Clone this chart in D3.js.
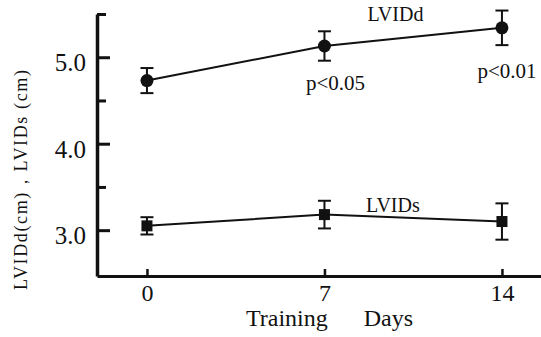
<!DOCTYPE html>
<html>
<head>
<meta charset="utf-8">
<script src="https://cdn.jsdelivr.net/npm/d3@7"></script>
<style>
  body { margin: 0; background: #fff; }
  svg { display: block; }
  svg text { font-family: "Liberation Serif", "DejaVu Serif", serif !important; fill: #111; }
</style>
</head>
<body>
<div id="chart"></div>
<script>
// values
const days = [0, 7, 14];
const lvidd = [4.73, 5.13, 5.34];
const lviddErr = [0.145, 0.17, 0.2];
const lvids = [3.05, 3.18, 3.10];
const lvidsErr = [0.1, 0.16, 0.21];
const majorTicks = [3.0, 4.0, 5.0];
const minorTicks = [3.5, 4.5, 5.5];
const pLabels = ["", "p<0.05", "p<0.01"];

const width = 541, height = 337;
const serif = "'Liberation Serif', 'DejaVu Serif', serif";

const svg = d3.select("#chart")
    .append("svg")
    .attr("width", width)
    .attr("height", height);

const x = d3.scaleLinear().domain([-1.97, 15.54]).range([97, 541]);
const y = d3.scaleLinear().domain([2.47, 5.5]).range([276, 14]);

// y axis: inward ticks, labels only on major ticks
const yMajor = d3.axisLeft(y)
    .tickValues(majorTicks)
    .tickFormat(d3.format(".1f"))
    .tickSizeInner(-13)
    .tickSizeOuter(0)
    .tickPadding(11);

const yMinor = d3.axisLeft(y)
    .tickValues(minorTicks)
    .tickFormat("")
    .tickSizeInner(-9)
    .tickSizeOuter(0);

const gy = svg.append("g").attr("transform", `translate(${x.range()[0]},0)`).call(yMajor);
const gy2 = svg.append("g").attr("transform", `translate(${x.range()[0]},0)`).call(yMinor);
gy2.select(".domain").remove();
[gy, gy2].forEach(g => {
    g.attr("font-family", serif);
    g.selectAll("line").attr("stroke", "#111").attr("stroke-width", 3);
});
gy.select(".domain").attr("stroke", "#111").attr("stroke-width", 3.5);
gy.selectAll("text")
    .attr("dy", "0.55em")
    .style("font-size", "25px");

// x axis: short upward ticks
const xAxis = d3.axisBottom(x)
    .tickValues(days)
    .tickSizeInner(-7)
    .tickSizeOuter(0)
    .tickPadding(8);

const gx = svg.append("g").attr("transform", `translate(0,${y.range()[0]})`).call(xAxis);
gx.attr("font-family", serif);
gx.select(".domain").attr("stroke", "#111").attr("stroke-width", 3);
gx.selectAll("line").attr("stroke", "#111").attr("stroke-width", 2.5);
gx.selectAll("text").style("font-size", "24px");

// axis titles
const xt = svg.append("text")
    .attr("x", x(7.2))
    .attr("y", 326)
    .attr("text-anchor", "middle")
    .attr("font-family", serif)
    .style("font-size", "24px");
xt.append("tspan").text("Training");
xt.append("tspan").attr("dx", 36).text("Days");

svg.append("text")
    .attr("transform", `translate(27,${y(3.58)}) rotate(-90)`)
    .attr("text-anchor", "middle")
    .attr("textLength", 220)
    .attr("lengthAdjust", "spacing")
    .attr("font-family", serif)
    .style("font-size", "18px")
    .text("LVIDd(cm)，LVIDs (cm)");

// series
function drawSeries(vals, errs, shape) {
    const pts = days.map((d, i) => ({d, v: vals[i], e: errs[i]}));
    const line = d3.line().x(p => x(p.d)).y(p => y(p.v));
    svg.append("path")
        .datum(pts)
        .attr("fill", "none")
        .attr("stroke", "#111")
        .attr("stroke-width", 2)
        .attr("d", line);

    const g = svg.append("g").attr("stroke", "#111").attr("stroke-width", 2);
    pts.forEach(p => {
        const cx = x(p.d);
        g.append("line").attr("x1", cx).attr("x2", cx).attr("y1", y(p.v + p.e)).attr("y2", y(p.v - p.e));
        [p.v + p.e, p.v - p.e].forEach(v => {
            g.append("line").attr("x1", cx - 6.5).attr("x2", cx + 6.5).attr("y1", y(v)).attr("y2", y(v));
        });
        if (shape === "circle") {
            svg.append("circle").attr("cx", cx).attr("cy", y(p.v)).attr("r", 6.5).attr("fill", "#111");
        } else {
            svg.append("rect").attr("x", cx - 5.5).attr("y", y(p.v) - 5.5)
                .attr("width", 11).attr("height", 11).attr("fill", "#111");
        }
    });
}

drawSeries(lvidd, lviddErr, "circle");
drawSeries(lvids, lvidsErr, "square");

// series labels
svg.append("text")
    .attr("x", x(9.8)).attr("y", 21)
    .attr("text-anchor", "middle")
    .attr("font-family", serif)
    .style("font-size", "20px")
    .text("LVIDd");

svg.append("text")
    .attr("x", x(9.7)).attr("y", 212)
    .attr("text-anchor", "middle")
    .attr("font-family", serif)
    .style("font-size", "20px")
    .text("LVIDs");

// significance labels
const pOffset = [[0, 0], [11, 44], [5, 50]];
pLabels.forEach((t, i) => {
    if (!t) return;
    svg.append("text")
        .attr("x", x(days[i]) + pOffset[i][0])
        .attr("y", y(lvidd[i]) + pOffset[i][1])
        .attr("text-anchor", "middle")
        .attr("font-family", serif)
        .style("font-size", "21px")
        .text(t);
});
</script>
</body>
</html>
